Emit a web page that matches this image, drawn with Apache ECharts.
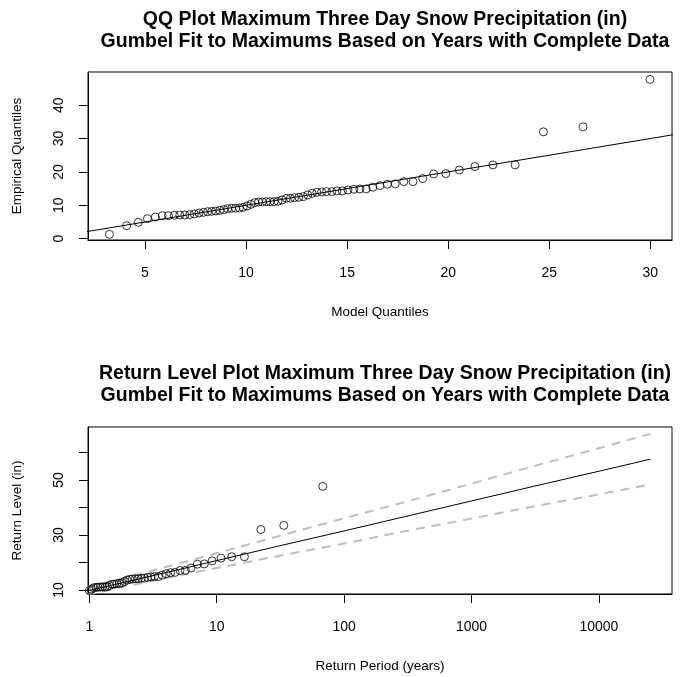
<!DOCTYPE html>
<html>
<head>
<meta charset="utf-8">
<script src="https://cdn.jsdelivr.net/npm/echarts@6/dist/echarts.min.js"></script>
<style>
html,body{margin:0;padding:0;background:#fff;}
#chart{width:682px;height:677px;}
</style>
</head>
<body>
<div id="chart"></div>
<script>
// ---- Data ----
const titleTop = 'QQ Plot Maximum Three Day Snow Precipitation (in)\nGumbel Fit to Maximums Based on Years with Complete Data';
const titleBottom = 'Return Level Plot Maximum Three Day Snow Precipitation (in)\nGumbel Fit to Maximums Based on Years with Complete Data';

// QQ plot: model quantiles (x) and empirical quantiles (y)
const modelQuantiles = [3.24,4.09,4.67,5.12,5.51,5.85,6.16,6.45,6.72,6.97,
  7.21,7.44,7.67,7.89,8.10,8.30,8.50,8.70,8.90,9.09,
  9.29,9.48,9.67,9.86,10.05,10.24,10.43,10.62,10.81,11.00,
  11.19,11.39,11.58,11.78,11.99,12.19,12.40,12.61,12.83,13.05,
  13.27,13.50,13.74,13.98,14.24,14.49,14.76,15.04,15.33,15.63,
  15.94,16.27,16.62,16.99,17.38,17.80,18.26,18.74,19.28,19.88,
  20.55,21.32,22.21,23.31,24.71,26.67,29.98];
const empiricalQuantiles = [1.3,3.9,4.9,6.0,6.5,6.9,6.9,7.0,7.1,7.1,
  7.2,7.4,7.7,7.9,8.1,8.2,8.3,8.5,8.7,9.0,
  9.1,9.1,9.2,9.4,9.8,10.3,10.8,11.0,11.0,11.1,
  11.1,11.1,11.2,11.6,12.1,12.1,12.3,12.4,12.6,13.1,
  13.6,13.9,14.0,14.1,14.1,14.3,14.3,14.6,14.8,14.9,
  14.9,15.4,15.9,16.3,16.4,17.1,17.1,18.0,19.4,19.5,
  20.6,21.6,22.1,22.1,32.0,33.5,47.7];
const qqLine = [[0,0],[40,40]]; // 1:1 reference line

// Return level plot: empirical points (period in years, level in inches)
const rlPeriods = [1.0,1.04,1.08,1.13,1.17,1.22,1.27,1.33,1.38,1.44,
  1.51,1.57,1.64,1.72,1.80,1.89,1.98,2.08,2.18,2.30,
  2.42,2.56,2.71,2.87,3.05,3.25,3.48,3.73,4.01,4.34,
  4.71,5.15,5.67,6.29,7.04,7.99,9.21,10.8,13.1,16.5,
  22.2,33.6,68.0];
const rlLevels = empiricalQuantiles.slice(empiricalQuantiles.length - rlPeriods.length);

// Fitted return level curve and confidence bounds
const curvePeriods = [0.95,2,5,10,30,100,300,1000,3000,10000,25400];
const curveLevel   = [9.6,13.1,17.4,20.7,25.9,31.5,36.7,42.4,47.6,53.2,57.6];
const curveUpper   = [11.0,14.7,19.6,23.4,29.5,36.1,42.0,48.7,54.9,61.6,66.8];
const curveLower   = [8.2,11.5,15.3,18.0,22.3,26.9,31.4,36.0,40.3,44.8,48.4];

// Tick values
const qqXTicks = [5,10,15,20,25,30];
const qqYTicks = [0,10,20,30,40];
const rlYTicks = [10,20,30,40,50,60];
const rlYLabels = [10,30,50];
const rlXTicks = [1,10,100,1000,10000];

// ---- Chart ----
const FONT = '"Liberation Sans", Arial, Helvetica, sans-serif';
const lg = v => Math.log10(v);
const chart = echarts.init(document.getElementById('chart'), null, {renderer:'canvas'});

function valAxis(gridIndex, min, max, ticks, labels, name, isY, fmt) {
  return {
    type: 'value', gridIndex, min, max,
    name, nameLocation: 'middle', nameGap: isY ? 64 : 65,
    nameTextStyle: {fontFamily: FONT, fontSize: 13.5, color: '#000'},
    axisLine: {show: true, onZero: false, lineStyle: {color: '#000', width: 1}},
    axisTick: {show: true, length: 9, customValues: ticks, lineStyle: {color: '#000', width: 1}},
    axisLabel: {show: true, customValues: labels, margin: isY ? 22 : 26, rotate: isY ? 90 : 0,
      fontFamily: FONT, fontSize: 14, color: '#000',
      formatter: fmt || (v => String(v))},
    splitLine: {show: false}
  };
}

const pointStyle = {color: 'rgba(0,0,0,0)', borderColor: '#000', borderWidth: 1};

chart.setOption({
  backgroundColor: '#fff',
  animation: false,
  title: [
    {text: titleTop, left: 380, top: 4, textAlign: 'center',
     textStyle: {fontFamily: FONT, fontWeight: 'bold', fontSize: 19.5, lineHeight: 22, color: '#000'}},
    {text: titleBottom, left: 380, top: 358, textAlign: 'center',
     textStyle: {fontFamily: FONT, fontWeight: 'bold', fontSize: 19.5, lineHeight: 22, color: '#000'}}
  ],
  grid: [
    {left: 88, top: 72, width: 584, height: 168, show: true, borderColor: '#000', borderWidth: 1, backgroundColor: 'transparent'},
    {left: 88, top: 427, width: 584, height: 167, show: true, borderColor: '#000', borderWidth: 1, backgroundColor: 'transparent'}
  ],
  xAxis: [
    valAxis(0, 2.18, 31.07, qqXTicks, qqXTicks, 'Model Quantiles', false),
    valAxis(1, lg(0.976), lg(37500), rlXTicks.map(lg), rlXTicks.map(lg), 'Return Period (years)', false,
      v => String(Math.round(Math.pow(10, v))))
  ],
  yAxis: [
    valAxis(0, -0.39, 49.92, qqYTicks, qqYTicks, 'Empirical Quantiles', true),
    valAxis(1, 8.55, 69.3, rlYTicks, rlYLabels, 'Return Level (in)', true)
  ],
  series: [
    {type: 'line', xAxisIndex: 0, yAxisIndex: 0, data: qqLine, showSymbol: false, clip: true,
     lineStyle: {color: '#000', width: 1}, z: 2},
    {type: 'scatter', xAxisIndex: 0, yAxisIndex: 0, symbol: 'circle', symbolSize: 8, clip: true,
     data: modelQuantiles.map((x, i) => [x, empiricalQuantiles[i]]), itemStyle: pointStyle, z: 3},
    {type: 'line', xAxisIndex: 1, yAxisIndex: 1, showSymbol: false, clip: true,
     data: curvePeriods.map((t, i) => [lg(t), curveUpper[i]]),
     lineStyle: {color: '#BEBEBE', width: 2, type: [9, 7]}, z: 2},
    {type: 'line', xAxisIndex: 1, yAxisIndex: 1, showSymbol: false, clip: true,
     data: curvePeriods.map((t, i) => [lg(t), curveLower[i]]),
     lineStyle: {color: '#BEBEBE', width: 2, type: [9, 7]}, z: 2},
    {type: 'line', xAxisIndex: 1, yAxisIndex: 1, showSymbol: false, clip: true,
     data: curvePeriods.map((t, i) => [lg(t), curveLevel[i]]),
     lineStyle: {color: '#000', width: 1}, z: 2},
    {type: 'scatter', xAxisIndex: 1, yAxisIndex: 1, symbol: 'circle', symbolSize: 8, clip: true,
     data: rlPeriods.map((t, i) => [lg(t), rlLevels[i]]), itemStyle: pointStyle, z: 3}
  ]
});
</script>
</body>
</html>
